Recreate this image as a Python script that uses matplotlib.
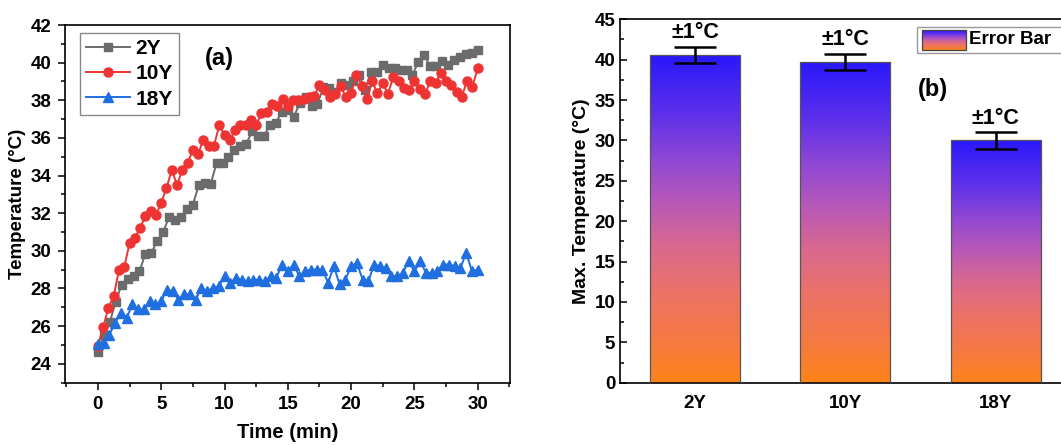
import numpy as np
import matplotlib
matplotlib.use("Agg")
import matplotlib.pyplot as plt
from matplotlib.colors import LinearSegmentedColormap
from matplotlib.ticker import MultipleLocator
from matplotlib.patches import Rectangle

plt.rcParams['font.family'] = ['Liberation Sans', 'DejaVu Sans']
plt.rcParams['font.weight'] = 'bold'

# ---------------- data (a) ----------------
temp_2y = [24.6, 25.5, 26.2, 27.3, 28.2, 28.5, 28.65, 28.9, 29.85, 29.9, 30.5, 31.0,
           31.8, 31.65, 31.8, 32.2, 32.45, 33.5, 33.6, 33.55, 34.66, 34.66, 35.0, 35.37,
           35.55, 35.7, 36.34, 36.1, 36.1, 36.7, 36.8, 37.4, 37.5, 37.1, 37.84, 38.2,
           37.67, 37.8, 38.7, 38.64, 38.46, 38.9, 38.8, 39.0, 39.35, 38.55, 39.5, 39.5,
           39.9, 39.7, 39.7, 39.6, 39.6, 39.35, 40.05, 40.4, 39.8, 39.8, 40.1, 39.9,
           40.15, 40.3, 40.46, 40.5, 40.67]
temp_10y = [24.93, 25.94, 26.97, 27.6, 29.0, 29.15, 30.4, 30.7, 31.2, 31.87, 32.1, 31.9,
            32.54, 33.34, 34.3, 33.5, 34.3, 34.66, 35.37, 35.16, 35.9, 35.58, 35.58, 36.66,
            36.16, 35.9, 36.43, 36.7, 36.7, 36.96, 36.7, 37.3, 37.4, 37.8, 37.7, 38.06,
            37.67, 38.0, 38.0, 38.06, 38.2, 38.23, 38.8, 38.55, 38.16, 38.34, 38.76, 38.16,
            38.37, 39.35, 38.76, 38.06, 39.0, 38.37, 38.9, 38.34, 39.26, 39.0, 38.64, 38.55,
            39.05, 38.6, 38.34, 39.0, 38.94, 39.44, 39.05, 38.82, 38.46, 38.2, 39.05, 38.73,
            39.7]
temp_18y = [25.02, 25.11, 25.55, 26.17, 26.7, 26.44, 27.15, 26.88, 26.88, 27.32, 27.15,
            27.32, 27.94, 27.85, 27.41, 27.68, 27.68, 27.41, 28.03, 27.85, 28.03, 28.12,
            28.65, 28.3, 28.56, 28.47, 28.38, 28.47, 28.47, 28.38, 28.65, 28.56, 29.27,
            28.91, 29.27, 28.65, 28.91, 29.0, 29.0, 29.0, 28.3, 29.18, 28.21, 28.47, 29.18,
            29.36, 28.47, 28.38, 29.27, 29.18, 29.09, 28.65, 28.65, 28.83, 29.44, 28.91,
            29.44, 28.83, 28.83, 28.91, 29.27, 29.27, 29.18, 29.09, 29.89, 28.91, 29.0]
t_end = 30.0
time_2y = np.linspace(0, t_end, len(temp_2y))
time_10y = np.linspace(0, t_end, len(temp_10y))
time_18y = np.linspace(0, t_end, len(temp_18y))

# ---------------- data (b) ----------------
categories = ['2Y', '10Y', '18Y']
max_temp = [40.6, 39.7, 30.0]
errors = [1.0, 1.0, 1.0]
err_labels = ['±1°C', '±1°C', '±1°C']

W, H = 1061, 445
fig = plt.figure(figsize=(W / 100, H / 100), dpi=100)

# ---------------- panel (a) ----------------
ax1 = fig.add_axes([65 / W, (H - 382.5) / H, 445 / W, 357.5 / H])
ax1.plot(time_2y, temp_2y, color='#6b6b6b', marker='s', ms=5.4, lw=1.4, label='2Y')
ax1.plot(time_10y, temp_10y, color='#ee3333', marker='o', ms=6.5, lw=1.4, label='10Y')
ax1.plot(time_18y, temp_18y, color='#1f6fe0', marker='^', ms=6.8, lw=1.4, label='18Y')
ax1.set_xlim(-2.6, 32.55)
ax1.set_ylim(23, 42)
ax1.xaxis.set_major_locator(MultipleLocator(5))
ax1.xaxis.set_minor_locator(MultipleLocator(2.5))
ax1.yaxis.set_major_locator(MultipleLocator(2))
ax1.yaxis.set_minor_locator(MultipleLocator(1))
ax1.tick_params(which='both', direction='out', top=False, right=False, width=1.1)
ax1.tick_params(which='major', length=5, labelsize=13.5, pad=5)
ax1.tick_params(which='minor', length=3)
for lab in ax1.get_xticklabels() + ax1.get_yticklabels():
    lab.set_fontweight('bold')
for s in ax1.spines.values():
    s.set_linewidth(1.2)
ax1.set_xlabel('Time (min)', fontsize=14.5, fontweight='bold', labelpad=7)
ax1.set_ylabel('Temperature (°C)', fontsize=13.5, fontweight='bold', labelpad=3)
leg = ax1.legend(loc='upper left', bbox_to_anchor=(0.034, 0.978), fontsize=15,
                 handlelength=2.1, handletextpad=0.25, borderpad=0.3, labelspacing=0.3,
                 fancybox=False, edgecolor='#888888', framealpha=1, borderaxespad=0)
for txt in leg.get_texts():
    txt.set_fontweight('bold')
ax1.text(0.315, 0.905, '(a)', transform=ax1.transAxes, fontsize=17, fontweight='bold',
         ha='left', va='center')

# ---------------- panel (b) ----------------
ax2 = fig.add_axes([620 / W, (H - 382.7) / H, 450.7 / W, 363.4 / H])
cmap = LinearSegmentedColormap.from_list('grad', [
    (0.0, '#ff8418'), (0.12, '#f67a40'), (0.28, '#ec7268'), (0.42, '#d86890'),
    (0.55, '#b858b8'), (0.68, '#9048d4'), (0.82, '#5e30ea'), (1.0, '#2a18fa')])
xpos = np.arange(len(categories))
bar_w = 0.6
bars = ax2.bar(xpos, max_temp, width=bar_w, facecolor='none', edgecolor='#555555',
               linewidth=0.9, zorder=3)
grad = np.linspace(0, 1, 256).reshape(-1, 1)
for b in bars:
    x0, y0 = b.get_x(), b.get_y()
    im = ax2.imshow(grad, cmap=cmap, origin='lower', aspect='auto',
                    extent=[x0, x0 + b.get_width(), y0, y0 + b.get_height()], zorder=2)
    im.set_clip_path(b)
ax2.errorbar(xpos, max_temp, yerr=errors, fmt='none', ecolor='black', elinewidth=1.8,
             capsize=15, capthick=1.8, zorder=4)
for x, v, e, lab in zip(xpos, max_temp, errors, err_labels):
    ax2.text(x, v + e + 0.45, lab, ha='center', va='bottom', fontsize=15.5, fontweight='bold')
ax2.set_xlim(-0.5, 2.5)
ax2.set_ylim(0, 45)
ax2.set_xticks(xpos)
ax2.set_xticklabels(categories)
ax2.yaxis.set_major_locator(MultipleLocator(5))
ax2.yaxis.set_minor_locator(MultipleLocator(2.5))
ax2.tick_params(which='both', direction='in', top=False, right=False, width=1.1)
ax2.tick_params(which='major', length=5, labelsize=13.5)
ax2.tick_params(axis='x', pad=9, labelsize=13.5)
ax2.tick_params(which='minor', length=3)
for lab in ax2.get_xticklabels() + ax2.get_yticklabels():
    lab.set_fontweight('bold')
for s in ax2.spines.values():
    s.set_linewidth(1.2)
ax2.set_ylabel('Max. Temperature (°C)', fontsize=14, fontweight='bold', labelpad=3)

# gradient legend "Error Bar"
ax2.add_patch(Rectangle((1.478, 40.83), 1.5, 3.22, facecolor='white', edgecolor='#999999',
                        linewidth=1.0, zorder=5, clip_on=False))
hx0, hx1, hy0, hy1 = 1.51, 1.80, 41.2, 43.67
hb = Rectangle((hx0, hy0), hx1 - hx0, hy1 - hy0, facecolor='none', edgecolor='#444444',
               linewidth=0.9, zorder=7)
ax2.add_patch(hb)
imh = ax2.imshow(grad, cmap=cmap, origin='lower', aspect='auto',
                 extent=[hx0, hx1, hy0, hy1], zorder=6)
ax2.text(1.825, 42.44, 'Error Bar', fontsize=13.5, fontweight='bold', ha='left', va='center',
         zorder=8)
ax2.text(1.48, 36.3, '(b)', fontsize=17, fontweight='bold', ha='left', va='center')
ax2.set_xlim(-0.5, 2.5)
ax2.set_ylim(0, 45)

fig.savefig('out.png', dpi=100)
